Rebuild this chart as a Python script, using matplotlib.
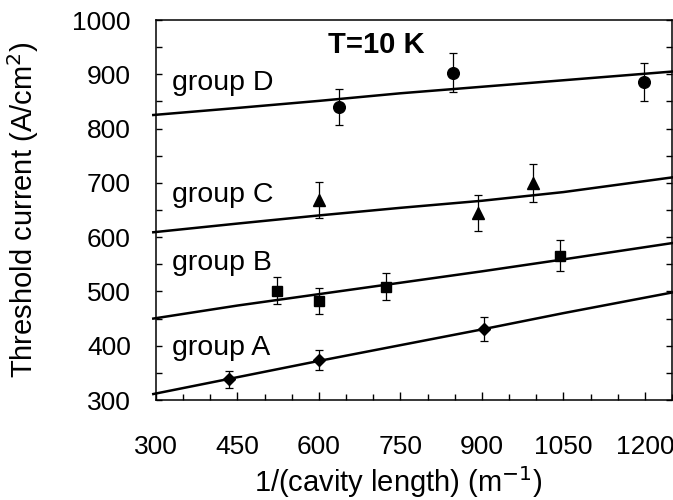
import matplotlib.pyplot as plt
from matplotlib.ticker import MultipleLocator

plt.rcParams['font.family'] = ['Liberation Sans', 'DejaVu Sans']

# measured points (x in 1/m, threshold current in A/cm^2, error)
xA = [435, 600, 904]
yA = [338, 374, 430]
eA = [16, 19, 22]

xB = [523, 601, 724, 1044]
yB = [501, 482, 509, 566]
eB = [25, 24, 25, 28]

xC = [601, 893, 995]
yC = [669, 645, 699]
eC = [33, 33, 35]

xD = [636, 847, 1199]
yD = [840, 903, 885]
eD = [33, 36, 35]

# fitted curves
line_x = [295, 450, 600, 750, 900, 1050, 1250]
lineA = [311, 342, 372, 401, 430, 460, 498]
lineB = [450, 474, 495, 516, 537, 559, 589]
lineC = [609, 625, 640, 654, 667, 683, 710]
lineD = [825, 838, 851, 865, 877, 889, 905]

group_names = ['group A', 'group B', 'group C', 'group D']
label_y = [396, 552, 678, 884]

fig = plt.figure(figsize=(6.73, 5.00), dpi=100)
ax = fig.add_axes([156/673, 100/500, 516/673, 380/500])

for ly in [lineA, lineB, lineC, lineD]:
    ax.plot(line_x, ly, color='black', lw=1.8, clip_on=False, zorder=2)

for x, y, e, m, ms in [(xA, yA, eA, 'D', 6.3), (xB, yB, eB, 's', 6.7),
                        (xC, yC, eC, '^', 9), (xD, yD, eD, 'o', 8.4)]:
    ax.errorbar(x, y, yerr=e, fmt=m, ms=ms, color='black', ecolor='black',
                elinewidth=0.9, capsize=3.2, capthick=0.9, zorder=3)

for name, ty in zip(group_names, label_y):
    ax.text(330, ty, name, fontsize=20.5, va='center', ha='left')

ax.text(706, 954, 'T=10 K', fontsize=21, fontweight='bold', ha='center', va='center')

ax.set_xlim(300, 1250)
ax.set_ylim(300, 1000)
ax.xaxis.set_major_locator(MultipleLocator(150))
ax.xaxis.set_minor_locator(MultipleLocator(50))
ax.yaxis.set_major_locator(MultipleLocator(100))
ax.yaxis.set_minor_locator(MultipleLocator(50))

ax.tick_params(axis='both', which='both', direction='in', labelsize=19, width=1)
ax.tick_params(axis='x', which='major', length=6, pad=25)
ax.tick_params(axis='x', which='minor', length=4)
ax.tick_params(axis='y', which='both', length=4, right=True, pad=18)
for s in ax.spines.values():
    s.set_linewidth(1.1)

ax.set_xlabel('1/(cavity length) (m$^{-1}$)', fontsize=21)
ax.xaxis.set_label_coords((398-156)/516, -0.168)
ax.set_ylabel('Threshold current (A/cm$^2$)', fontsize=21)
ax.yaxis.set_label_coords(-0.222, 0.5)

fig.savefig('out.png', dpi=100)
